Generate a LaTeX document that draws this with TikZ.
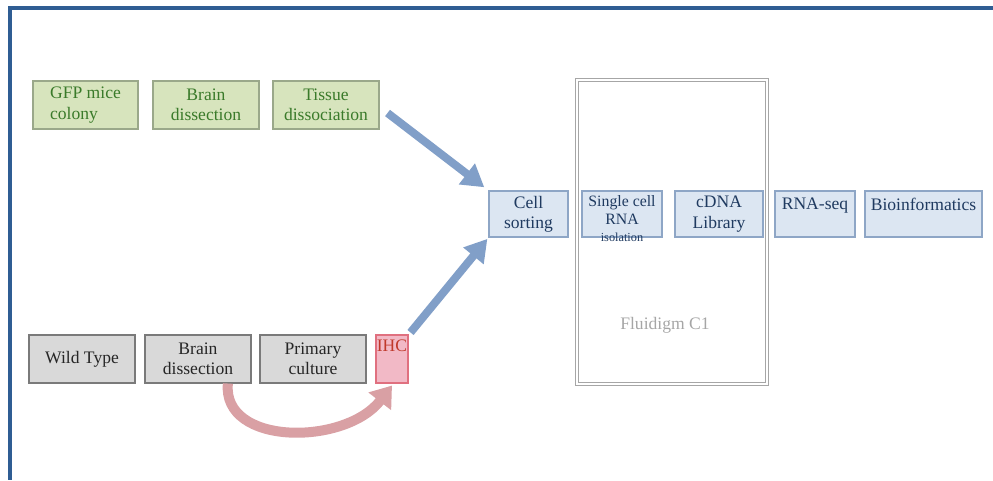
\documentclass[tikz,border=0pt]{standalone}
\usepackage{fontspec}
\setmainfont{Liberation Serif}
\usetikzlibrary{arrows.meta}
\definecolor{FrameBlue}{HTML}{2F5D93}
\definecolor{GreenFill}{HTML}{D7E4BD}
\definecolor{GreenLine}{HTML}{9AA88A}
\definecolor{GreenText}{HTML}{3A7A2A}
\definecolor{BlueFill}{HTML}{DCE6F2}
\definecolor{BlueLine}{HTML}{8EA6C6}
\definecolor{BlueText}{HTML}{1F3A60}
\definecolor{GrayFill}{HTML}{D9D9D9}
\definecolor{GrayLine}{HTML}{7A7A7A}
\definecolor{GrayText}{HTML}{262626}
\definecolor{IHCFill}{HTML}{F2B9C6}
\definecolor{IHCLine}{HTML}{E0707F}
\definecolor{IHCText}{HTML}{C0392B}
\definecolor{ArrowBlue}{HTML}{819FC8}
\definecolor{ArrowPink}{HTML}{D9A0A4}
\definecolor{CGray}{HTML}{A6A6A6}

\tikzset{
  stagebox/.style={rectangle,draw,line width=.6pt,inner sep=1pt,align=center,
    minimum height=.96cm,font=\fontsize{10}{11.5}\selectfont},
  greenbox/.style={stagebox,fill=GreenFill,draw=GreenLine,text=GreenText},
  graybox/.style={stagebox,fill=GrayFill,draw=GrayLine,text=GrayText},
  bluebox/.style={stagebox,fill=BlueFill,draw=BlueLine,text=BlueText,minimum height=.92cm},
  ihcbox/.style={stagebox,fill=IHCFill,draw=IHCLine,text=IHCText},
  flowarrow/.style={ArrowBlue,line width=.16cm,-{Triangle[length=.44cm,width=.5cm]}},
  curvearrow/.style={ArrowPink,line width=.2cm,-{Triangle[length=.4cm,width=.55cm]}},
  c1frame/.style={rectangle,draw=CGray,line width=.8pt,double=white,double distance=.04cm}
}

\begin{document}
\begin{tikzpicture}[x=0.02cm,y=-0.02cm]
\path[use as bounding box] (0,0) rectangle (993,480);
\draw[FrameBlue,line width=.08cm] (993,8) -- (10,8) -- (10,480);

% Fluidigm C1 chip
\node[c1frame,minimum width=3.8cm,minimum height=6.08cm] (chip) at (672,232) {};
\node[text=CGray,font=\fontsize{10}{11.5}\selectfont] (chiplabel) at (665,325) {Fluidigm C1};

% GFP line
\node[greenbox,minimum width=2.1cm,align=left] (gfp) at (85.5,105) {GFP mice\\colony};
\node[greenbox,minimum width=2.12cm] (braingfp) at (206,105) {Brain\\dissection};
\node[greenbox,minimum width=2.12cm] (tissue) at (326,105) {Tissue\\dissociation};

% wild type line
\node[graybox,minimum width=2.12cm] (wild) at (82,359) {Wild Type};
\node[graybox,minimum width=2.12cm] (brainwt) at (198,359) {Brain\\dissection};
\node[graybox,minimum width=2.12cm] (culture) at (313,359) {Primary\\culture};
\node[ihcbox,minimum width=.64cm,inner sep=0pt] (ihc) at (392,359) {IHC\\[4pt]\mbox{}};

% sequencing steps
\node[bluebox,minimum width=1.58cm] (sorting) at (528.5,214) {Cell\\sorting};
\node[bluebox,minimum width=1.6cm] (single) at (622,214) {};
\node[text=BlueText,align=center,inner sep=0pt,font=\fontsize{9}{10.5}\selectfont] (singletext) at ([yshift=-2.4pt]single.center)
  {Single cell\\RNA\\[-1pt]{\fontsize{7}{7.5}\selectfont isolation}};
\node[bluebox,minimum width=1.76cm] (cdna) at (719,214) {cDNA\\Library};
\node[bluebox,minimum width=1.6cm] (rnaseq) at (815,214) {RNA-seq\\\mbox{}};
\node[bluebox,minimum width=2.34cm] (bioinf) at (923.5,214) {Bioinformatics\\\mbox{}};

\draw[flowarrow,shorten >=3pt] ([shift={(8,8)}]tissue.east) -- (sorting.north west);
\draw[flowarrow,shorten >=1pt] ([shift={(2,-2)}]ihc.north east) -- (sorting.south west);
\draw[curvearrow] ([xshift=17]brainwt.south) .. controls (222,446) and (345,446) .. ([shift={(0,2)}]ihc.south);
\end{tikzpicture}
\end{document}
